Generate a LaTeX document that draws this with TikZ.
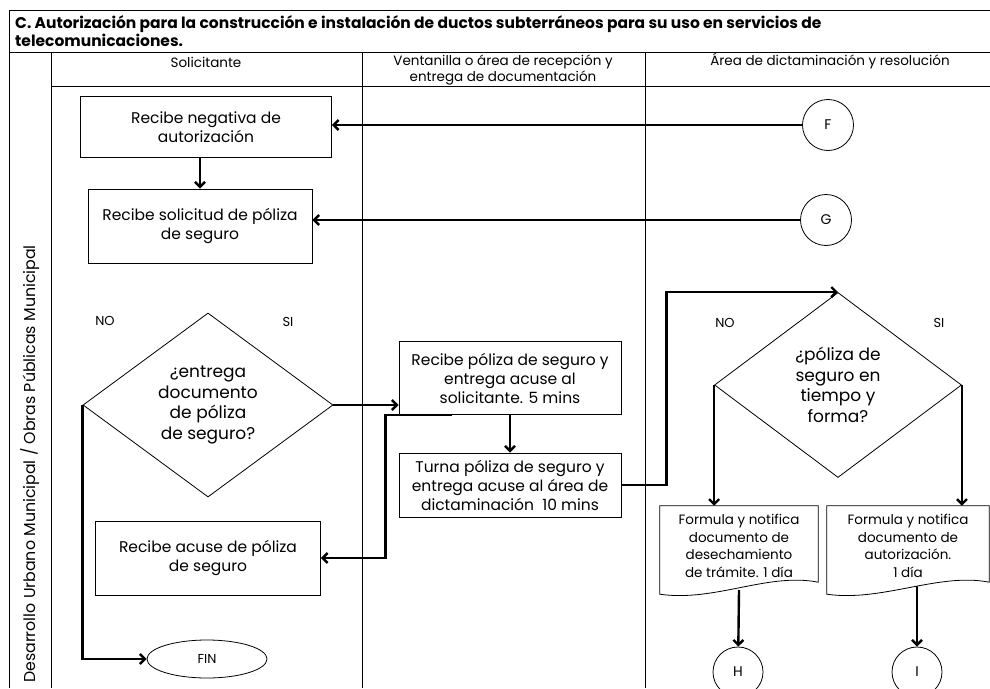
\documentclass[tikz,border=0pt]{standalone}
\usepackage{fontspec}
\setmainfont{Poppins}
\usetikzlibrary{positioning,shapes.geometric,arrows.meta,calc}

\begin{document}
\begin{tikzpicture}[
	%Environment config
	x=1pt,y=-1pt,
	font=\fontsize{15.5}{19}\selectfont,
	>={Straight Barb[length=5pt,width=10pt]},
	%Environment styles
	LineCfg/.style={line width=0.7pt},
	BoxCfg/.style={draw,line width=0.8pt,align=center,inner sep=2pt},
	DecCfg/.style={diamond,draw,line width=0.8pt,align=center,inner sep=0pt,font=\fontsize{17}{20.5}\selectfont},
	DocCfg/.style={align=center,inner sep=0pt,minimum width=158pt,minimum height=80pt,font=\fontsize{13.5}{17.5}\selectfont},
	LinkCfg/.style={circle,draw,line width=0.8pt,minimum size=51pt,inner sep=0pt,font=\fontsize{14}{16}\selectfont},
	ArrowCfg/.style={->,line width=2.4pt},
	HeadCfg/.style={align=center,font=\fontsize{13.5}{16}\selectfont},
	TagCfg/.style={font=\fontsize{13}{15}\selectfont}
	]
	\useasboundingbox (0,0) rectangle (990,688);
	\clip (0,0) rectangle (990,688);
	%Lanes
	\draw[LineCfg]
	(9,688) -- (9,10) -- (990,10)
	(9,52) -- (990,52)
	(51,86) -- (990,86)
	(51,52) -- (51,688)
	(362,52) -- (362,688)
	(645,52) -- (645,688);
	%Titles
	\path
	(15,15) node[anchor=north west,align=left,inner sep=0pt,font=\bfseries\fontsize{15.5}{18.5}\selectfont](Title){C. Autorización para la construcción e instalación de ductos subterráneos para su uso en servicios de\\telecomunicaciones.}
	(206,62) node[HeadCfg](HSol){Solicitante}
	(503,70) node[HeadCfg](HVen){Ventanilla o área de recepción y\\entrega de documentación}
	(830,61) node[HeadCfg](HDic){Área de dictaminación y resolución}
	(30,464) node[rotate=90,font=\fontsize{15.8}{19}\selectfont](Lane){Desarrollo Urbano Municipal / Obras Públicas Municipal};
	%Steps
	\path
	(206,127) node[BoxCfg,minimum width=251pt,minimum height=61pt](NegAut){Recibe negativa de\\autorización}
	(200,226) node[BoxCfg,minimum width=224pt,minimum height=74pt](SolPol){Recibe solicitud de póliza\\de seguro}
	(208,405) node[DecCfg,minimum width=250pt,minimum height=184pt](EntDoc){¿entrega\\documento\\de póliza\\de seguro?}
	(208,558) node[BoxCfg,minimum width=225pt,minimum height=74pt](AcuPol){Recibe acuse de póliza\\de seguro}
	(207,659) node[ellipse,draw,line width=0.8pt,minimum width=120pt,minimum height=38pt,font=\fontsize{13}{15}\selectfont](Fin){FIN}
	(510,378) node[BoxCfg,minimum width=222pt,minimum height=73pt](RecPol){Recibe póliza de seguro y\\entrega acuse al\\solicitante. 5 mins}
	(510,485) node[BoxCfg,minimum width=222pt,minimum height=64pt](TurPol){Turna póliza de seguro y\\entrega acuse al área de\\dictaminación~~10 mins}
	(838,385) node[DecCfg,minimum width=247pt,minimum height=185pt](TiePol){¿póliza de\\seguro en\\tiempo y\\forma?}
	(739,546) node[DocCfg](DocDes){Formula y notifica\\documento de\\desechamiento\\de trámite. 1 día}
	(908,546) node[DocCfg,minimum width=162pt](DocAut){Formula y notifica\\documento de\\autorización.\\1 día}
	(828,125) node[LinkCfg](F){F}
	(826,220) node[LinkCfg](G){G}
	(738,672) node[LinkCfg,minimum size=50pt](H){H}
	(917,672) node[LinkCfg,minimum size=50pt](I){I}
	(105,321) node[TagCfg](No1){NO}
	(288,322) node[TagCfg](Si1){SI}
	(725,323) node[TagCfg](No2){NO}
	(939,323) node[TagCfg](Si2){SI};
	%Documents
	\foreach \d in {DocDes,DocAut}
		\draw[line width=0.8pt] (\d.north west) -- (\d.north east) -- ([yshift=4pt]\d.south east)
		.. controls ([xshift=-50pt,yshift=14pt]\d.south east) and ([xshift=55pt,yshift=-16pt]\d.south west) .. ([yshift=-8pt]\d.south west) -- cycle;
	%Flow
	\draw[ArrowCfg] (F) -- (F -| NegAut.east);
	\draw[ArrowCfg] (NegAut.south -| SolPol.north) -- (SolPol.north);
	\draw[ArrowCfg] (G) -- (G -| SolPol.east);
	\draw[ArrowCfg] (EntDoc.east) -- (EntDoc.east -| RecPol.west);
	\draw[ArrowCfg] (EntDoc.west) |- (Fin.west);
	\draw[ArrowCfg] ([xshift=53pt]RecPol.south west) -- ++(-66,0) |- (AcuPol.east);
	\draw[ArrowCfg] (RecPol.south) -- (TurPol.north);
	\draw[ArrowCfg] (TurPol.east) -- ++(45,0) |- (TiePol.north);
	\draw[ArrowCfg] (TiePol.west) -- (TiePol.west |- DocDes.north);
	\draw[ArrowCfg] (TiePol.east) -- (TiePol.east |- DocAut.north);
	\draw[ArrowCfg] ([yshift=-4pt]DocDes.south) -- (H);
	\draw[ArrowCfg] (I |- DocAut.south) -- (I);
\end{tikzpicture}
\end{document}
